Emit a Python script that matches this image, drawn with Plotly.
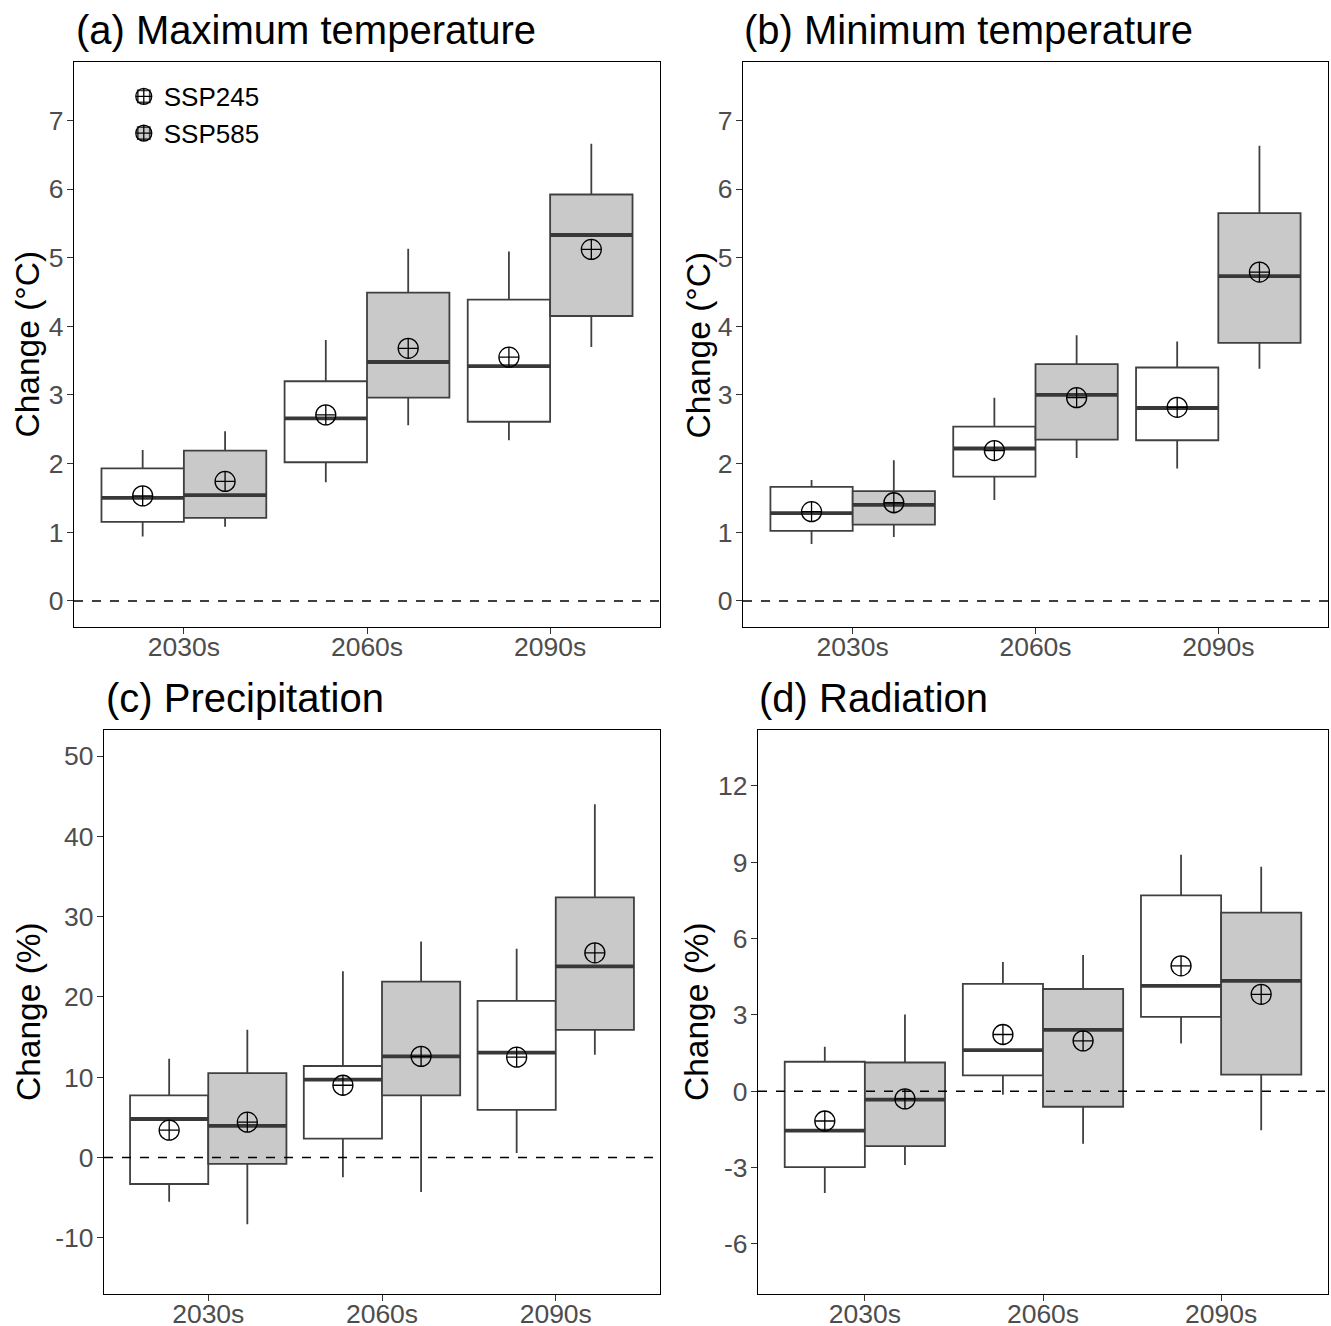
import plotly.graph_objects as go

# ---- categories -------------------------------------------------------------
periods = ["2030s", "2060s", "2090s"]
scenarios = ["SSP245", "SSP585"]

# ---- y tick values per panel -----------------------------------------------
temp_ticks = [0, 1, 2, 3, 4, 5, 6, 7]
prec_ticks = [-10, 0, 10, 20, 30, 40, 50]
rad_ticks = [-6, -3, 0, 3, 6, 9, 12]

# ---- box statistics per panel and scenario (low/high = whisker ends) --------
tmax_ssp245 = dict(low=[0.94, 1.73, 2.34], q1=[1.15, 2.02, 2.61], med=[1.50, 2.66, 3.42],
                   q3=[1.93, 3.20, 4.39], high=[2.20, 3.80, 5.09], mean=[1.53, 2.71, 3.55])
tmax_ssp585 = dict(low=[1.08, 2.56, 3.70], q1=[1.21, 2.96, 4.15], med=[1.54, 3.48, 5.33],
                   q3=[2.19, 4.49, 5.92], high=[2.47, 5.13, 6.66], mean=[1.74, 3.68, 5.12])

tmin_ssp245 = dict(low=[0.83, 1.47, 1.93], q1=[1.02, 1.81, 2.34], med=[1.28, 2.22, 2.81],
                   q3=[1.66, 2.54, 3.40], high=[1.76, 2.96, 3.78], mean=[1.30, 2.19, 2.82])
tmin_ssp585 = dict(low=[0.93, 2.08, 3.38], q1=[1.11, 2.35, 3.76], med=[1.40, 3.00, 4.73],
                   q3=[1.60, 3.45, 5.65], high=[2.05, 3.87, 6.63], mean=[1.43, 2.96, 4.79])

prec_ssp245 = dict(low=[-5.5, -2.45, 0.57], q1=[-3.3, 2.35, 5.93], med=[4.8, 9.7, 13.06],
                   q3=[7.75, 11.4, 19.5], high=[12.3, 23.2, 26.0], mean=[3.4, 9.0, 12.5])
prec_ssp585 = dict(low=[-8.3, -4.3, 12.8], q1=[-0.8, 7.75, 15.9], med=[3.95, 12.6, 23.8],
                   q3=[10.5, 21.9, 32.4], high=[15.9, 26.9, 44.0], mean=[4.4, 12.6, 25.5])

rad_ssp245 = dict(low=[-4.0, -0.14, 1.88], q1=[-2.98, 0.62, 2.92], med=[-1.55, 1.62, 4.14],
                  q3=[1.16, 4.22, 7.70], high=[1.75, 5.08, 9.30], mean=[-1.17, 2.23, 4.93])
rad_ssp585 = dict(low=[-2.90, -2.06, -1.53], q1=[-2.16, -0.61, 0.65], med=[-0.33, 2.41, 4.34],
                  q3=[1.13, 4.02, 7.02], high=[3.02, 5.36, 8.82], mean=[-0.30, 1.98, 3.81])

# ---- styling ----------------------------------------------------------------
FONT = "Liberation Sans, Arial, Helvetica, sans-serif"
W, H = 1331, 1326
EDGE = "#404040"
MEDIAN = "#383838"
FILLS = {"SSP245": "#ffffff", "SSP585": "#c9c9c9"}
DODGE = 0.225          # half of the dodge width (0.9 / 2 / 2)
BOX_W = 0.45

panels = [
    dict(title="(a) Maximum temperature", ytitle="Change (°C)", series=(tmax_ssp245, tmax_ssp585),
         yrange=[-0.38, 7.85], ticks=temp_ticks, px=(74, 660), py=(62, 627), title_x=74, ytitle_x=27),
    dict(title="(b) Minimum temperature", ytitle="Change (°C)", series=(tmin_ssp245, tmin_ssp585),
         yrange=[-0.38, 7.85], ticks=temp_ticks, px=(743, 1328), py=(62, 627), title_x=742, ytitle_x=698),
    dict(title="(c) Precipitation", ytitle="Change (%)", series=(prec_ssp245, prec_ssp585),
         yrange=[-17.0, 53.25], ticks=prec_ticks, px=(104, 660), py=(730, 1294), title_x=104, ytitle_x=29),
    dict(title="(d) Radiation", ytitle="Change (%)", series=(rad_ssp245, rad_ssp585),
         yrange=[-7.97, 14.2], ticks=rad_ticks, px=(758, 1328), py=(730, 1294), title_x=757, ytitle_x=697),
]

fig = go.Figure()
layout = {}
annotations = []
shapes = []

for k, p in enumerate(panels):
    sfx = "" if k == 0 else str(k + 1)
    xa, ya = "x" + sfx, "y" + sfx
    for s, (scen, d) in enumerate(zip(scenarios, p["series"])):
        off = -DODGE if s == 0 else DODGE
        xpos = [i + 1 + off for i in range(len(periods))]
        fig.add_trace(go.Box(
            x=xpos, q1=d["q1"], median=d["med"], q3=d["q3"],
            lowerfence=d["low"], upperfence=d["high"],
            width=BOX_W, whiskerwidth=0, boxpoints=False,
            fillcolor=FILLS[scen], line=dict(color=EDGE, width=1.8),
            name=scen, legendgroup=scen, showlegend=(k == 0), legend="legend",
            xaxis=xa, yaxis=ya, hoverinfo="skip",
        ))
        # thicker median bar
        mx, my = [], []
        for xp, m in zip(xpos, d["med"]):
            mx += [xp - BOX_W / 2, xp + BOX_W / 2, None]
            my += [m, m, None]
        fig.add_trace(go.Scatter(
            x=mx, y=my, mode="lines", line=dict(color=MEDIAN, width=3.8),
            showlegend=False, xaxis=xa, yaxis=ya, hoverinfo="skip",
        ))
        # mean marker
        fig.add_trace(go.Scatter(
            x=xpos, y=d["mean"], mode="markers",
            marker=dict(symbol="circle-cross-open", size=20, color="black",
                        line=dict(width=1.3, color="black")),
            name=scen, legendgroup=scen, showlegend=(k == 0), legend="legend2",
            xaxis=xa, yaxis=ya, hoverinfo="skip",
        ))

    axis_common = dict(showgrid=False, zeroline=False, showline=True, mirror=True,
                       automargin=False,
                       linecolor="black", linewidth=1.4, ticks="outside", ticklen=6,
                       tickwidth=1.3, tickcolor="#333333",
                       tickfont=dict(family=FONT, size=26.5, color="#4d4d4d"))
    layout["xaxis" + sfx] = dict(
        axis_common, domain=[p["px"][0] / W, p["px"][1] / W], anchor=ya,
        range=[0.4, 3.6], tickmode="array", tickvals=[1, 2, 3], ticktext=periods,
        ticklabelstandoff=-10,
    )
    layout["yaxis" + sfx] = dict(
        axis_common, domain=[1 - p["py"][1] / H, 1 - p["py"][0] / H], anchor=xa,
        range=p["yrange"], tickmode="array", tickvals=p["ticks"],
        ticktext=[str(t) for t in p["ticks"]], ticklabelstandoff=-2,
    )
    # dashed reference line at zero
    shapes.append(dict(type="line", xref=xa + " domain", yref=ya, x0=0, x1=1, y0=0, y1=0,
                       line=dict(color="black", width=1.5, dash="dash"), layer="above"))
    # panel title
    annotations.append(dict(text=p["title"], xref="paper", yref="paper",
                            x=p["title_x"] / W, y=1 - (p["py"][0] - 32) / H,
                            xanchor="left", yanchor="middle", showarrow=False,
                            font=dict(family=FONT, size=40, color="black")))
    # y-axis title
    annotations.append(dict(text=p["ytitle"], xref="paper", yref="paper", textangle=-90,
                            x=p["ytitle_x"] / W, y=1 - (p["py"][0] + p["py"][1]) / 2 / H,
                            xanchor="center", yanchor="middle", showarrow=False,
                            font=dict(family=FONT, size=33.5, color="black")))

legend_common = dict(x=0.093, y=0.945, xanchor="left", yanchor="top",
                     bgcolor="rgba(0,0,0,0)", borderwidth=0, tracegroupgap=0,
                     itemclick=False, itemdoubleclick=False)
layout["legend"] = dict(legend_common, font=dict(family=FONT, size=26, color="black"))
layout["legend2"] = dict(legend_common, font=dict(family=FONT, size=26, color="rgba(0,0,0,0)"))

fig.update_layout(
    width=W, height=H, margin=dict(l=0, r=0, t=0, b=0, autoexpand=False),
    paper_bgcolor="white", plot_bgcolor="white",
    boxmode="overlay", showlegend=True,
    annotations=annotations, shapes=shapes,
    font=dict(family=FONT),
    **layout,
)

fig.write_html("out.html")
